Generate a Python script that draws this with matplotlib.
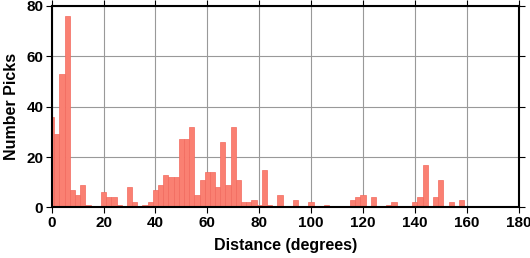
import numpy as np
import matplotlib
matplotlib.use("Agg")
import matplotlib.pyplot as plt

# bin centres (degrees), bins are 2 degrees wide
bin_centers = np.arange(0, 180, 2)
# picks per bin
counts = [36, 29, 53, 76, 7, 5, 9, 1, 0, 0,
          6, 4, 4, 1, 0, 8, 2, 0, 1, 2,
          7, 9, 13, 12, 12, 27, 27, 32, 5, 11,
          14, 14, 8, 26, 9, 32, 11, 2, 2, 3,
          1, 15, 1, 0, 5, 0, 0, 3, 0, 0,
          2, 0, 0, 1, 0, 0, 0, 0, 3, 4,
          5, 0, 4, 0, 0, 1, 2, 0, 0, 0,
          2, 4, 17, 0, 4, 11, 0, 2, 0, 3,
          0, 0, 0, 0, 0, 0, 0, 0, 0, 0]
x_ticks = [0, 20, 40, 60, 80, 100, 120, 140, 160, 180]
y_ticks = [0, 20, 40, 60, 80]

plt.rcParams["font.family"] = ["Liberation Sans", "DejaVu Sans"]
plt.rcParams["font.weight"] = "bold"

fig = plt.figure(figsize=(5.3, 2.58), dpi=100)
ax = fig.add_axes([0.0975, 0.196, 0.881, 0.781])

ax.bar(bin_centers, counts, width=2, align="center",
       color="#fa8072", edgecolor="#f26a5e", linewidth=0.5, zorder=2)

ax.set_xlim(0, 180)
ax.set_ylim(0, 80)
ax.set_xticks(x_ticks)
ax.set_yticks(y_ticks)
ax.grid(color="#999999", linewidth=0.8, zorder=0)
ax.set_axisbelow(True)

for s in ax.spines.values():
    s.set_linewidth(1.5)
    s.set_zorder(3)
ax.tick_params(direction="out", length=4, width=0.8, top=True, right=True,
               labelsize=11, pad=2)
for lab in ax.get_xticklabels() + ax.get_yticklabels():
    lab.set_fontweight("bold")

ax.set_xlabel("Distance (degrees)", fontsize=11.5, fontweight="bold", labelpad=6)
ax.set_ylabel("Number Picks", fontsize=11.5, fontweight="bold", labelpad=5)

fig.savefig("out.png", dpi=100)
